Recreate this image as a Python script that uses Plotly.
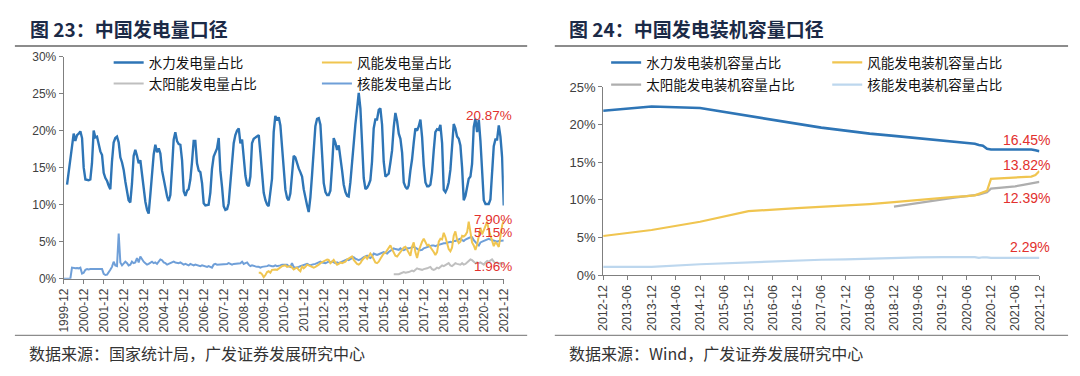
import pandas as pd
import plotly.graph_objects as go

# ---------------- Left chart data (monthly share of generation, %) ----------------
hydro_start = "2000-02-01"
hydro = [
    12.7, 14.3, 15.9, 17.9, 19.6, 18.6, 19.4, 19.6, 19.9, 19.0, 15.0,          # 2000-02..2000-12
    13.4, 13.3, 13.3, 13.4, 15.6, 20.0, 19.1, 19.2, 17.9, 17.2, 16.7, 14.3,    # 2001
    13.6, 13.2, 12.6, 12.1, 15.8, 18.4, 19.0, 19.2, 18.4, 16.4, 15.7, 14.7,    # 2002
    13.1, 11.6, 10.6, 10.3, 12.8, 16.6, 17.4, 16.6, 15.6, 16.0, 14.2, 12.0,    # 2003
    10.4, 9.3, 8.8, 11.4, 14.4, 16.8, 18.1, 17.1, 17.6, 16.9, 14.6, 13.4,      # 2004
    12.0, 11.1, 10.5, 11.3, 14.8, 18.8, 19.8, 18.6, 18.2, 18.1, 16.0, 11.8,    # 2005
    11.2, 11.9, 12.1, 13.4, 15.7, 18.6, 18.6, 15.6, 14.6, 14.4, 12.9, 10.2,    # 2006
    9.9, 9.9, 10.0, 11.6, 14.8, 16.5, 17.0, 17.6, 19.0, 14.6, 12.4, 9.8,       # 2007
    9.3, 9.4, 10.2, 12.9, 15.5, 18.3, 19.4, 20.0, 20.3, 18.3, 18.8, 16.3,      # 2008
    13.9, 12.7, 12.5, 13.8, 18.3, 18.9, 19.1, 19.2, 19.4, 17.0, 13.8, 11.6,    # 2009
    10.6, 10.0, 9.8, 11.5, 13.5, 19.8, 22.0, 21.4, 21.8, 20.7, 17.6, 14.0,     # 2010
    12.0, 10.9, 10.6, 11.5, 14.0, 16.6, 16.4, 15.6, 14.9, 14.4, 13.8, 12.1,    # 2011
    10.7, 9.9, 9.0, 11.0, 14.0, 17.5, 20.6, 21.6, 21.7, 20.8, 17.0, 12.9,      # 2012
    11.7, 11.3, 11.3, 11.9, 15.1, 19.0, 18.4, 17.4, 18.0, 16.5, 14.6, 12.7,    # 2013
    11.7, 11.2, 11.1, 13.0, 15.9, 18.2, 20.8, 22.9, 25.1, 23.0, 18.9, 13.6,    # 2014
    12.1, 12.3, 12.7, 13.3, 15.8, 20.3, 21.5, 21.5, 22.8, 23.0, 20.8, 15.8,    # 2015
    13.8, 14.0, 14.2, 15.7, 17.3, 20.5, 22.4, 21.3, 19.6, 18.9, 17.0, 13.0,    # 2016
    12.4, 12.1, 12.6, 14.6, 16.1, 18.4, 20.3, 20.0, 20.6, 21.5, 19.1, 15.3,    # 2017
    13.0, 12.5, 12.5, 12.7, 14.3, 17.3, 19.8, 20.2, 20.1, 20.8, 18.3, 12.0,    # 2018
    11.7, 12.2, 13.0, 14.7, 18.3, 20.9, 20.3, 19.2, 18.9, 18.0, 15.0, 10.6,    # 2019
    11.2, 12.5, 13.5, 13.8, 15.5, 20.5, 21.6, 19.8, 21.5, 18.6, 13.8, 10.6,    # 2020
    10.1, 10.1, 10.1, 10.7, 14.4, 17.9, 18.8, 18.8, 20.7, 19.2, 16.4, 9.9,     # 2021
]

nuclear_start = "1999-12-01"
nuclear = [
    0, 0, 0, 0, 0, 1.5, 1.4, 1.4, 1.45, 1.4, 1.5, 0.7, 0.8,                   # 1999-12..2000-12
    1.2, 1.3, 1.25, 1.3, 1.3, 1.35, 1.25, 1.3, 1.3, 1.35, 1.3, 0.65,          # 2001
    0.5, 0.55, 0.8, 1.2, 1.6, 2.3, 1.8, 1.7, 6.1, 2.2, 1.8, 2.1,              # 2002
    2.3, 2.1, 1.8, 1.9, 2.3, 2.1, 2.2, 2.8, 2.2, 3.0, 2.6, 2.3,               # 2003
    2.1, 1.9, 2.0, 2.2, 2.3, 2.1, 2.2, 2.0, 2.3, 2.6, 2.5, 2.2,               # 2004
    2.1, 1.9, 2.0, 2.1, 2.2, 2.3, 2.2, 2.1, 2.1, 2.2, 2.0, 1.9,               # 2005
    2.0, 1.9, 1.8, 2.0, 1.9, 1.8, 1.9, 1.8, 1.8, 1.7, 1.8, 1.7,               # 2006
    1.7, 1.6, 1.7, 1.6, 1.5, 1.9, 2.0, 1.9, 1.9, 2.0, 1.9, 1.9,               # 2007
    1.9, 2.0, 2.1, 2.0, 1.9, 2.0, 2.0, 2.1, 2.0, 2.1, 2.3, 2.0,               # 2008
    2.1, 2.2, 1.9, 1.7, 1.8, 1.7, 1.7, 1.6, 1.6, 1.5, 1.6, 1.6,               # 2009
    1.7, 1.7, 1.8, 1.7, 1.7, 1.7, 1.8, 1.7, 1.7, 1.8, 1.9, 1.9,               # 2010
    2.0, 1.9, 1.7, 1.6, 2.1, 1.6, 1.5, 1.5, 1.6, 1.7, 1.8, 1.8,               # 2011
    1.9, 2.0, 1.9, 1.8, 1.9, 1.9, 2.0, 2.1, 2.2, 2.3, 2.2, 2.1,               # 2012
    2.1, 2.2, 2.3, 2.2, 2.3, 2.2, 2.1, 2.2, 2.1, 2.2, 2.3, 2.4,               # 2013
    2.5, 2.6, 2.5, 2.6, 2.8, 2.9, 2.7, 2.6, 2.5, 2.6, 2.8, 2.9,               # 2014
    3.0, 3.1, 2.9, 2.8, 3.0, 3.4, 3.3, 3.2, 3.3, 3.4, 3.5, 3.6,               # 2015
    3.5, 3.4, 3.6, 3.8, 3.9, 4.1, 4.0, 3.9, 3.9, 4.1, 3.9, 3.85,              # 2016
    4.0, 4.1, 4.1, 4.2, 4.3, 4.3, 4.2, 4.0, 3.9, 3.85, 3.9, 4.1,              # 2017
    4.2, 4.3, 4.3, 4.4, 4.5, 4.5, 4.4, 4.5, 4.6, 4.7, 4.7, 4.8,               # 2018
    4.8, 4.9, 4.9, 5.0, 4.9, 5.1, 5.1, 5.2, 5.3, 5.4, 5.2, 5.1,               # 2019
    5.3, 5.45, 5.5, 5.6, 5.6, 5.2, 4.9, 4.7, 4.5, 4.9, 5.0, 5.1,              # 2020
    5.2, 5.3, 5.4, 5.3, 5.2, 5.1, 5.1, 5.0, 5.1, 5.1, 5.15, 5.15,             # 2021
]

wind_start = "2009-09-01"
wind = [
    0.8, 0.8, 0.6, 0.2,                                                        # 2009-09..2009-12
    0.5, 0.9, 1.0, 0.8, 1.2, 1.25, 1.25, 1.2, 1.4, 1.6, 1.7, 1.75,            # 2010
    1.8, 1.6, 1.6, 1.7, 1.5, 1.25, 1.4, 1.5, 1.2, 1.0, 1.7, 1.4,              # 2011
    1.6, 1.9, 1.8, 1.7, 1.6, 1.5, 1.6, 1.7, 1.9, 2.1, 2.2, 2.3,               # 2012
    2.45, 2.6, 2.55, 2.1, 2.3, 2.55, 2.2, 1.9, 2.0, 2.2, 2.1, 2.2,            # 2013
    2.3, 2.6, 2.7, 2.8, 3.0, 2.55, 2.2, 2.0, 1.9, 2.1, 2.5, 2.8,              # 2014
    3.0, 2.7, 3.1, 3.4, 3.1, 2.6, 2.2, 2.1, 2.3, 2.7, 3.0, 3.4,               # 2015
    3.5, 3.9, 4.3, 4.5, 4.0, 3.4, 3.1, 3.0, 3.3, 3.7, 3.9, 4.2,               # 2016
    4.3, 3.9, 3.5, 3.1, 4.3, 4.9, 3.6, 2.8, 3.8, 4.5, 5.0, 5.4,               # 2017
    5.0, 4.5, 4.6, 4.3, 4.0, 3.6, 3.2, 3.6, 5.0, 5.4, 5.3, 6.2,               # 2018
    5.6, 4.5, 4.0, 3.7, 4.2, 5.8, 6.4, 5.3, 4.8, 5.0, 5.8, 5.7,               # 2019
    5.9, 6.3, 7.7, 6.3, 4.9, 4.5, 3.9, 4.6, 5.9, 6.9, 6.0, 6.6,               # 2020
    7.2, 7.7, 6.6, 5.8, 5.2, 4.4, 4.9, 4.7, 4.3, 5.8, 7.2, 7.9,               # 2021
]

solar_start = "2016-06-01"
solar = [
    0.6, 0.6, 0.55, 0.6, 0.7, 0.8, 0.9,                                        # 2016-06..2016-12
    0.8, 0.8, 0.9, 1.0, 1.1, 1.0, 1.2, 1.4, 1.3, 1.2, 1.2, 1.3,               # 2017
    1.3, 1.4, 1.5, 1.6, 1.3, 1.2, 1.3, 1.5, 1.4, 1.6, 1.8, 1.7,               # 2018
    1.8, 2.0, 2.1, 1.8, 1.7, 1.9, 2.1, 2.0, 1.9, 1.9, 2.1, 1.9,               # 2019
    2.0, 2.2, 2.5, 2.6, 2.5, 2.3, 2.1, 2.2, 2.1, 2.2, 2.0, 1.9,               # 2020
    2.2, 2.4, 2.3, 2.5, 2.6, 2.3, 2.1, 2.2, 2.0, 2.1, 2.0, 1.96,              # 2021
]

left_names = ["水力发电量占比", "风能发电量占比", "太阳能发电量占比", "核能发电量占比"]
left_tick_years = list(range(1999, 2022))
left_labels = ["20.87%", "7.90%", "5.15%", "1.96%"]
left_label_vals = [22.0, 8.0, 6.3, 1.7]

# ---------------- Right chart data (share of installed capacity, %) ----------------
cap_dates = ["2012-12", "2013-12", "2014-12", "2015-12", "2016-12", "2017-06", "2017-12",
             "2018-06", "2018-12", "2019-06", "2019-12", "2020-03", "2020-06", "2020-08",
             "2020-09", "2020-10", "2020-11", "2020-12", "2021-02", "2021-04", "2021-06",
             "2021-08", "2021-10", "2021-11", "2021-12"]
cap_hydro = [21.85, 22.4, 22.2, 21.2, 20.1, 19.6, 19.2, 18.8, 18.5, 18.2, 17.8, 17.65, 17.5,
             17.45, 17.3, 17.2, 16.8, 16.7, 16.7, 16.7, 16.75, 16.7, 16.7, 16.6, 16.45]
cap_wind = [5.2, 6.0, 7.1, 8.5, 8.9, 9.05, 9.2, 9.45, 9.7, 10.0, 10.3, 10.4, 10.5,
            10.6, 10.8, 11.0, 11.2, 12.8, 12.85, 12.9, 13.0, 13.0, 13.1, 13.3, 13.82]
cap_solar_dates = cap_dates[8:]
cap_solar = [9.1, 9.6, 10.1, 10.3, 10.5, 10.6, 10.7, 10.85, 11.0, 11.5, 11.6, 11.7, 11.8,
             12.0, 12.15, 12.25, 12.39]
cap_nuclear = [1.1, 1.1, 1.45, 1.7, 2.0, 2.05, 2.1, 2.2, 2.3, 2.35, 2.4, 2.4, 2.42,
               2.4, 2.3, 2.38, 2.35, 2.3, 2.3, 2.3, 2.3, 2.3, 2.3, 2.29, 2.29]
right_names = ["水力发电装机容量占比", "风能发电装机容量占比", "太阳能发电装机容量占比", "核能发电装机容量占比"]
right_ticks = ["2012-12", "2013-06", "2013-12", "2014-06", "2014-12", "2015-06", "2015-12",
               "2016-06", "2016-12", "2017-06", "2017-12", "2018-06", "2018-12", "2019-06",
               "2019-12", "2020-06", "2020-12", "2021-06", "2021-12"]
right_labels = ["16.45%", "13.82%", "12.39%", "2.29%"]
right_label_vals = [18.0, 14.6, 10.2, 3.8]

# ---------------- Figure ----------------
W, H = 1080, 376
def px(x):
    return x / W
def py(y):
    return 1 - y / H

C_HYDRO = "#2E75B6"
C_WIND = "#F0C550"
C_SOLAR = "#BFBFBF"
C_NUC_L = "#6F9FD8"
C_NUC_R = "#BDD7EE"
RED = "#E2302D"
CJK = "Noto Sans CJK SC"
LAT = "Liberation Sans, Arial"

def months(start, n):
    return pd.date_range(start, periods=n, freq="MS")

fig = go.Figure()

left_series = [
    (months(hydro_start, len(hydro)), hydro, C_HYDRO, 2.4, "legend"),
    (months(wind_start, len(wind)), wind, C_WIND, 2.0, "legend2"),
    (months(solar_start, len(solar)), solar, C_SOLAR, 2.0, "legend3"),
    (months(nuclear_start, len(nuclear)), nuclear, C_NUC_L, 2.0, "legend4"),
]
for i in [3, 2, 1, 0]:
    xs, ys, col, lw, lg = left_series[i]
    fig.add_trace(go.Scatter(x=xs, y=ys, mode="lines", name=left_names[i],
                             line=dict(color=col, width=lw), xaxis="x", yaxis="y",
                             legend=lg, showlegend=True))

right_dates_full = pd.to_datetime([d + "-01" for d in cap_dates])
right_series = [
    (right_dates_full, cap_hydro, C_HYDRO, 2.6, "legend5"),
    (right_dates_full, cap_wind, C_WIND, 2.2, "legend6"),
    (pd.to_datetime([d + "-01" for d in cap_solar_dates]), cap_solar, "#AEAEAE", 2.2, "legend7"),
    (right_dates_full, cap_nuclear, C_NUC_R, 2.2, "legend8"),
]
for i in [3, 2, 1, 0]:
    xs, ys, col, lw, lg = right_series[i]
    fig.add_trace(go.Scatter(x=xs, y=ys, mode="lines", name=right_names[i],
                             line=dict(color=col, width=lw), xaxis="x2", yaxis="y2",
                             legend=lg, showlegend=True))

axis_col = "#7F7F7F"
tick_font = dict(family=LAT, size=12, color="#404040")

fig.update_layout(
    width=W, height=H, margin=dict(l=0, r=0, t=0, b=0),
    paper_bgcolor="white", plot_bgcolor="white",
    xaxis=dict(domain=[px(57.4), px(503.3)], type="date",
               range=["1999-12-01", "2021-12-01"],
               tickmode="array",
               tickvals=[f"{y}-12-01" for y in left_tick_years],
               ticktext=[f"{y}-12" for y in left_tick_years],
               tickangle=-90, ticks="outside", ticklen=4, tickcolor=axis_col,
               showline=True, linecolor=axis_col, linewidth=1, showgrid=False,
               zeroline=False, tickfont=tick_font, anchor="y"),
    yaxis=dict(domain=[py(283), py(51.7)], range=[0, 30],
               tickmode="array", tickvals=[0, 5, 10, 15, 20, 25, 30],
               ticktext=["0%", "5%", "10%", "15%", "20%", "25%", "30%"],
               ticks="outside", ticklen=4, tickcolor=axis_col,
               showline=True, linecolor=axis_col, linewidth=1, showgrid=False,
               zeroline=False, tickfont=tick_font, anchor="x"),
    xaxis2=dict(domain=[px(604), px(1046)], type="date",
                range=["2012-12-01", "2021-12-01"],
                tickmode="array",
                tickvals=[t + "-01" for t in right_ticks], ticktext=right_ticks,
                tickangle=-90, ticks="outside", ticklen=4, tickcolor=axis_col,
                showline=True, linecolor=axis_col, linewidth=1, showgrid=False,
                zeroline=False, tickfont=dict(family=LAT, size=12.5, color="#404040"),
                anchor="y2"),
    yaxis2=dict(domain=[py(279.3), py(83.3)], range=[0, 25],
                tickmode="array", tickvals=[0, 5, 10, 15, 20, 25],
                ticktext=["0%", "5%", "10%", "15%", "20%", "25%"],
                ticks="outside", ticklen=4, tickcolor=axis_col,
                showline=True, linecolor=axis_col, linewidth=1, showgrid=False,
                zeroline=False, tickfont=dict(family=LAT, size=13, color="#404040"),
                anchor="x2"),
    hovermode=False,
)

# legends: one per entry, placed as in the reference (2 x 2 grid per chart)
leg_font = dict(family=CJK, size=13.5, color="#111111")
leg_pos = {
    "legend": (103, 58), "legend2": (314, 58), "legend3": (103, 80), "legend4": (314, 80),
    "legend5": (607, 58), "legend6": (831, 58), "legend7": (607, 81), "legend8": (831, 81),
}
for key, (lx, ly) in leg_pos.items():
    fig.update_layout({key: dict(x=px(lx), y=py(ly), xanchor="left", yanchor="middle",
                                 orientation="v", font=leg_font, bgcolor="rgba(0,0,0,0)",
                                 borderwidth=0, itemwidth=30)})

# value labels
for txt, v in zip(left_labels, left_label_vals):
    fig.add_annotation(x="2021-12-01", y=v, xref="x", yref="y", text=txt, showarrow=False,
                       xanchor="right", yanchor="middle", xshift=10,
                       font=dict(family=LAT, size=13.5, color=RED))
for txt, v in zip(right_labels, right_label_vals):
    fig.add_annotation(x="2021-12-01", y=v, xref="x2", yref="y2", text=txt, showarrow=False,
                       xanchor="right", yanchor="middle", xshift=13,
                       font=dict(family=LAT, size=14, color=RED))

# titles, sources and separator lines
titles = [("图 23：中国发电量口径", 21), ("图 24：中国发电装机容量口径", 567)]
for txt, x0 in titles:
    fig.add_annotation(x=px(x0), y=py(22), xref="paper", yref="paper", text=f"<b>{txt}</b>",
                       showarrow=False, xanchor="left", yanchor="middle",
                       font=dict(family=CJK, size=19, color="#1B2A47"))
sources = [("数据来源：国家统计局，广发证券发展研究中心", 20), ("数据来源：Wind，广发证券发展研究中心", 567)]
for txt, x0 in sources:
    fig.add_annotation(x=px(x0), y=py(360), xref="paper", yref="paper", text=txt,
                       showarrow=False, xanchor="left", yanchor="middle",
                       font=dict(family=CJK, size=16, color="#333333"))
for (a, b) in [(8, 527), (555, 1075)]:
    fig.add_shape(type="line", xref="paper", yref="paper", x0=px(a), x1=px(b),
                  y0=py(40.5), y1=py(40.5), line=dict(color="#8C8C8C", width=2))
    fig.add_shape(type="line", xref="paper", yref="paper", x0=px(a), x1=px(b),
                  y0=py(342), y1=py(342), line=dict(color="#8C8C8C", width=1.2))

fig.write_html("out.html", config={"displayModeBar": False},
               post_script="document.body.style.margin='0px';")
